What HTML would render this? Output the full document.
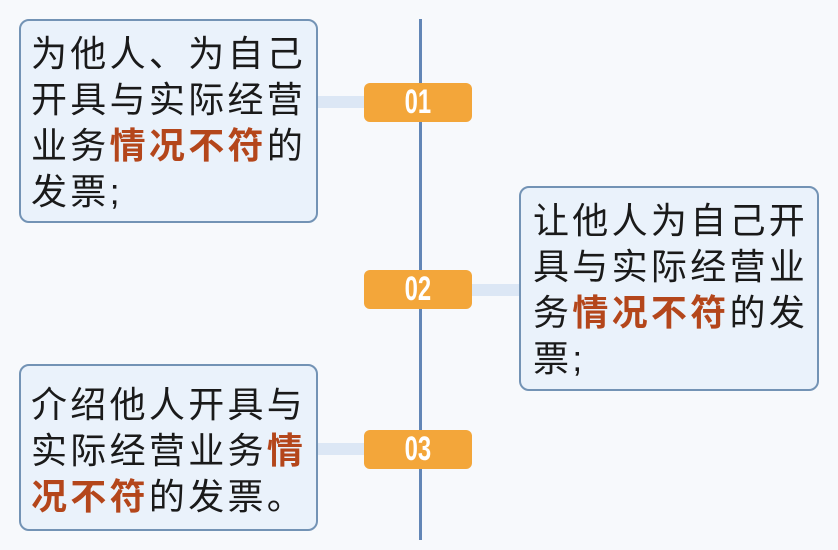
<!DOCTYPE html>
<html><head><meta charset="utf-8"><style>
body{margin:0;width:838px;height:550px;background:#f7f9fc;position:relative;overflow:hidden;font-family:"Liberation Sans","Noto Sans CJK SC",sans-serif}
.box{position:absolute;background:#eaf2fb;border:2px solid #7393b5;border-radius:10px;box-sizing:border-box;font-size:36px;line-height:46px;letter-spacing:3.3px;color:#1a1a1a;padding:12px 0 0 10px;white-space:nowrap}
.box b{color:#b4461b}
.vl{position:absolute;left:419px;top:19px;width:3px;height:521px;background:#6286b6}
.bd{position:absolute;left:364px;width:108px;height:39px;background:#f3a63a;border-radius:6px;color:#fff;font:bold 34px/39px "Liberation Sans Narrow","Liberation Sans",sans-serif;text-align:center}
.bd span{display:inline-block;transform:scaleX(0.7)}
.cn{position:absolute;height:12px;background:#dce7f5}
</style></head><body>
<div class="vl"></div>
<div class="cn" style="left:317px;top:96px;width:47px"></div>
<div class="cn" style="left:472px;top:284px;width:47px"></div>
<div class="cn" style="left:317px;top:443px;width:47px"></div>
<div class="bd" style="top:83px"><span>01</span></div>
<div class="bd" style="top:270px"><span>02</span></div>
<div class="bd" style="top:430px"><span>03</span></div>
<div class="box" style="left:19px;top:19px;width:299px;height:204px;padding-top:10px">为他人、为自己<br>开具与实际经营<br>业务<b>情况不符</b>的<br>发票;</div>
<div class="box" style="left:519px;top:186px;width:300px;height:205px;padding-left:12px;padding-top:10px">让他人为自己开<br>具与实际经营业<br>务<b>情况不符</b>的发<br>票;</div>
<div class="box" style="left:19px;top:364px;width:299px;height:167px;padding-top:16px">介绍他人开具与<br>实际经营业务<b>情</b><br><b>况不符</b>的发票。</div>
</body></html>
